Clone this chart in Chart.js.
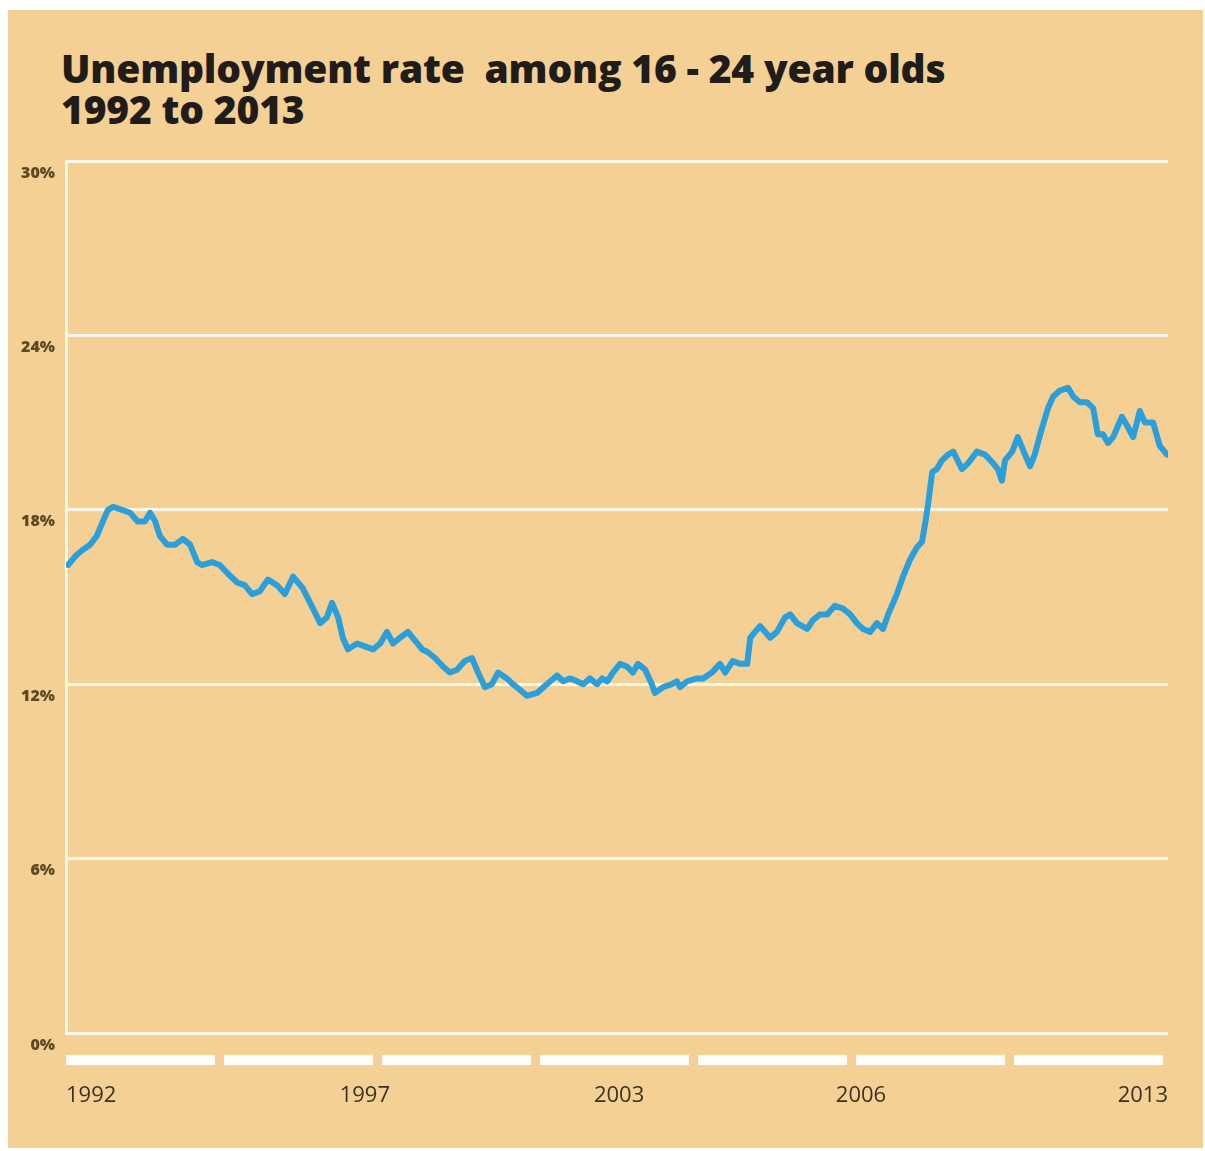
<!DOCTYPE html>
<html>
<head>
<meta charset="utf-8">
<script src="https://cdn.jsdelivr.net/npm/chart.js@4/dist/chart.umd.min.js"></script>
<style>
  html, body { margin: 0; padding: 0; background: #ffffff; overflow: hidden; }
  #panel {
    position: absolute; left: 8px; top: 10px; width: 1195px; height: 1138px;
    background: #f5d095;
  }
  #title {
    position: absolute; left: 61px; top: 47px; margin: 0;
    font-family: "Open Sans", sans-serif; font-weight: 800; font-size: 39px;
    line-height: 41px; color: #1f1c19; letter-spacing: -0.2px;
  }
  #wrap { position: absolute; left: 0; top: 0; width: 1205px; height: 1151px; }
</style>
</head>
<body>
<div id="panel"></div>
<h1 id="title">Unemployment rate&nbsp; among 16 - 24 year olds<br>1992 to 2013</h1>
<div id="wrap"><canvas id="line_chart"></canvas></div>
<script>
// Youth (16-24) unemployment rate, % — decimal year and value pairs
var years = [
  1992.04, 1992.18, 1992.31, 1992.47, 1992.60, 1992.72, 1992.82, 1992.92, 1993.09, 1993.25,
  1993.40, 1993.54, 1993.64, 1993.74, 1993.83, 1993.97, 1994.13, 1994.28, 1994.42, 1994.56,
  1994.65, 1994.85, 1995.00, 1995.16, 1995.34, 1995.49, 1995.63, 1995.78, 1995.94, 1996.12,
  1996.27, 1996.43, 1996.62, 1996.82, 1996.96, 1997.09, 1997.19, 1997.31, 1997.40, 1997.50,
  1997.68, 1997.83, 1997.99, 1998.13, 1998.26, 1998.38, 1998.52, 1998.67, 1998.81, 1998.95,
  1999.06, 1999.20, 1999.36, 1999.49, 1999.63, 1999.78, 1999.92, 2000.04, 2000.17, 2000.31,
  2000.43, 2000.60, 2000.72, 2000.86, 2000.99, 2001.19, 2001.38, 2001.58, 2001.70, 2001.83,
  2001.97, 2002.09, 2002.22, 2002.36, 2002.46, 2002.56, 2002.67, 2002.81, 2002.95, 2003.06,
  2003.16, 2003.30, 2003.43, 2003.49, 2003.65, 2003.82, 2003.92, 2003.98, 2004.12, 2004.31,
  2004.43, 2004.60, 2004.76, 2004.86, 2005.01, 2005.15, 2005.29, 2005.35, 2005.54, 2005.74,
  2005.87, 2006.03, 2006.13, 2006.26, 2006.46, 2006.57, 2006.71, 2006.85, 2007.00, 2007.16,
  2007.30, 2007.43, 2007.55, 2007.69, 2007.82, 2007.94, 2008.04, 2008.21, 2008.33, 2008.47,
  2008.60, 2008.70, 2008.76, 2008.82, 2008.90, 2008.99, 2009.09, 2009.21, 2009.31, 2009.48,
  2009.60, 2009.77, 2009.93, 2010.09, 2010.18, 2010.26, 2010.32, 2010.46, 2010.57, 2010.71,
  2010.81, 2010.90, 2011.04, 2011.16, 2011.26, 2011.39, 2011.55, 2011.65, 2011.78, 2011.92,
  2012.04, 2012.13, 2012.23, 2012.33, 2012.43, 2012.60, 2012.70, 2012.82, 2012.95, 2013.05,
  2013.21, 2013.34, 2013.48
];
var rates = [
  16.1, 16.4, 16.6, 16.8, 17.1, 17.6, 18.0, 18.1, 18.0, 17.9,
  17.6, 17.6, 17.9, 17.6, 17.1, 16.8, 16.8, 17.0, 16.8, 16.2,
  16.1, 16.2, 16.1, 15.8, 15.5, 15.4, 15.1, 15.2, 15.6, 15.4,
  15.1, 15.7, 15.3, 14.6, 14.1, 14.3, 14.8, 14.3, 13.6, 13.2,
  13.4, 13.3, 13.2, 13.4, 13.8, 13.4, 13.6, 13.8, 13.5, 13.2,
  13.1, 12.9, 12.6, 12.4, 12.5, 12.8, 12.9, 12.4, 11.9, 12.0,
  12.4, 12.2, 12.0, 11.8, 11.6, 11.7, 12.0, 12.3, 12.1, 12.2,
  12.1, 12.0, 12.2, 12.0, 12.2, 12.1, 12.4, 12.7, 12.6, 12.4,
  12.7, 12.5, 12.0, 11.7, 11.9, 12.0, 12.1, 11.9, 12.1, 12.2,
  12.2, 12.4, 12.7, 12.4, 12.8, 12.7, 12.7, 13.6, 14.0, 13.6,
  13.8, 14.3, 14.4, 14.1, 13.9, 14.2, 14.4, 14.4, 14.7, 14.6,
  14.4, 14.1, 13.9, 13.8, 14.1, 13.9, 14.4, 15.1, 15.7, 16.3,
  16.7, 16.9, 17.5, 18.2, 19.3, 19.4, 19.7, 19.9, 20.0, 19.4,
  19.6, 20.0, 19.9, 19.6, 19.4, 19.0, 19.7, 20.0, 20.5, 19.9,
  19.5, 19.9, 20.8, 21.5, 21.9, 22.1, 22.2, 21.9, 21.7, 21.7,
  21.5, 20.6, 20.6, 20.3, 20.5, 21.2, 20.9, 20.5, 21.4, 21.0,
  21.0, 20.2, 19.9
];

// y axis ticks (percent) and the year labels along the bottom
var yTicks = [0, 6, 12, 18, 24, 30];
var xTickValues = [1992, 1997.83, 2002.79, 2007.51, 2013.5];
var xTickLabels = ['1992', '1997', '2003', '2006', '2013'];

var points = [];
for (i = 0; i < years.length; i++) {
  points.push({ x: years[i], y: rates[i] });
}

// white dashed bar under the plot, split into 7 equal pieces
var segmentBar = {
  id: 'segmentBar',
  afterDraw: function (chart) {
    var ctx = chart.ctx;
    var area = chart.chartArea;
    var pieces = 7, gap = 9;
    var span = area.right - area.left - 5;
    var w = (span - gap * (pieces - 1)) / pieces;
    ctx.save();
    ctx.fillStyle = '#fffdf8';
    for (var k = 0; k < pieces; k++) {
      ctx.fillRect(area.left + k * (w + gap), area.bottom + 22, w, 10);
    }
    ctx.restore();
  }
};

var ctx = document.getElementById('line_chart').getContext('2d');
var myChart = new Chart(ctx, {
  type: 'line',
  data: {
    datasets: [{
      label: 'Unemployment rate 16-24',
      data: points,
      borderColor: '#2a9fda',
      borderWidth: 6,
      pointRadius: 0,
      tension: 0,
      borderJoinStyle: 'round',
      borderCapStyle: 'round',
      fill: false
    }]
  },
  options: {
    responsive: true,
    maintainAspectRatio: false,
    animation: false,
    layout: { padding: { left: 0, top: 161, right: 37, bottom: 0 } },
    plugins: {
      legend: { display: false },
      tooltip: { enabled: false }
    },
    scales: {
      x: {
        type: 'linear',
        min: 1992,
        max: 2013.5,
        afterBuildTicks: function (scale) {
          scale.ticks = xTickValues.map(function (v) { return { value: v }; });
        },
        afterFit: function (scale) { scale.height = 118; },
        // invisible tick marks push the year labels down below the bar
        grid: {
          display: true, drawOnChartArea: false, drawTicks: true,
          tickLength: 46, tickColor: 'rgba(0,0,0,0)', color: 'rgba(0,0,0,0)'
        },
        border: { display: false },
        ticks: {
          align: 'inner',
          padding: 4,
          maxRotation: 0,
          autoSkip: false,
          color: '#3b3222',
          font: { family: 'Open Sans', size: 22, weight: '500' },
          callback: function (value) {
            return xTickLabels[xTickValues.indexOf(value)];
          }
        }
      },
      y: {
        min: 0,
        max: 30,
        afterBuildTicks: function (scale) {
          scale.ticks = yTicks.map(function (v) { return { value: v }; });
        },
        afterFit: function (scale) { scale.width = 66; },
        grid: { color: '#fff8ea', lineWidth: 3, drawTicks: false },
        border: { display: true, color: '#fff8ea', width: 3 },
        ticks: {
          padding: 11,
          labelOffset: 12,
          color: '#5e4a22',
          font: { family: 'Open Sans', size: 16, weight: '800' },
          callback: function (value) { return value + '%'; }
        }
      }
    }
  },
  plugins: [segmentBar]
});
</script>
</body>
</html>
